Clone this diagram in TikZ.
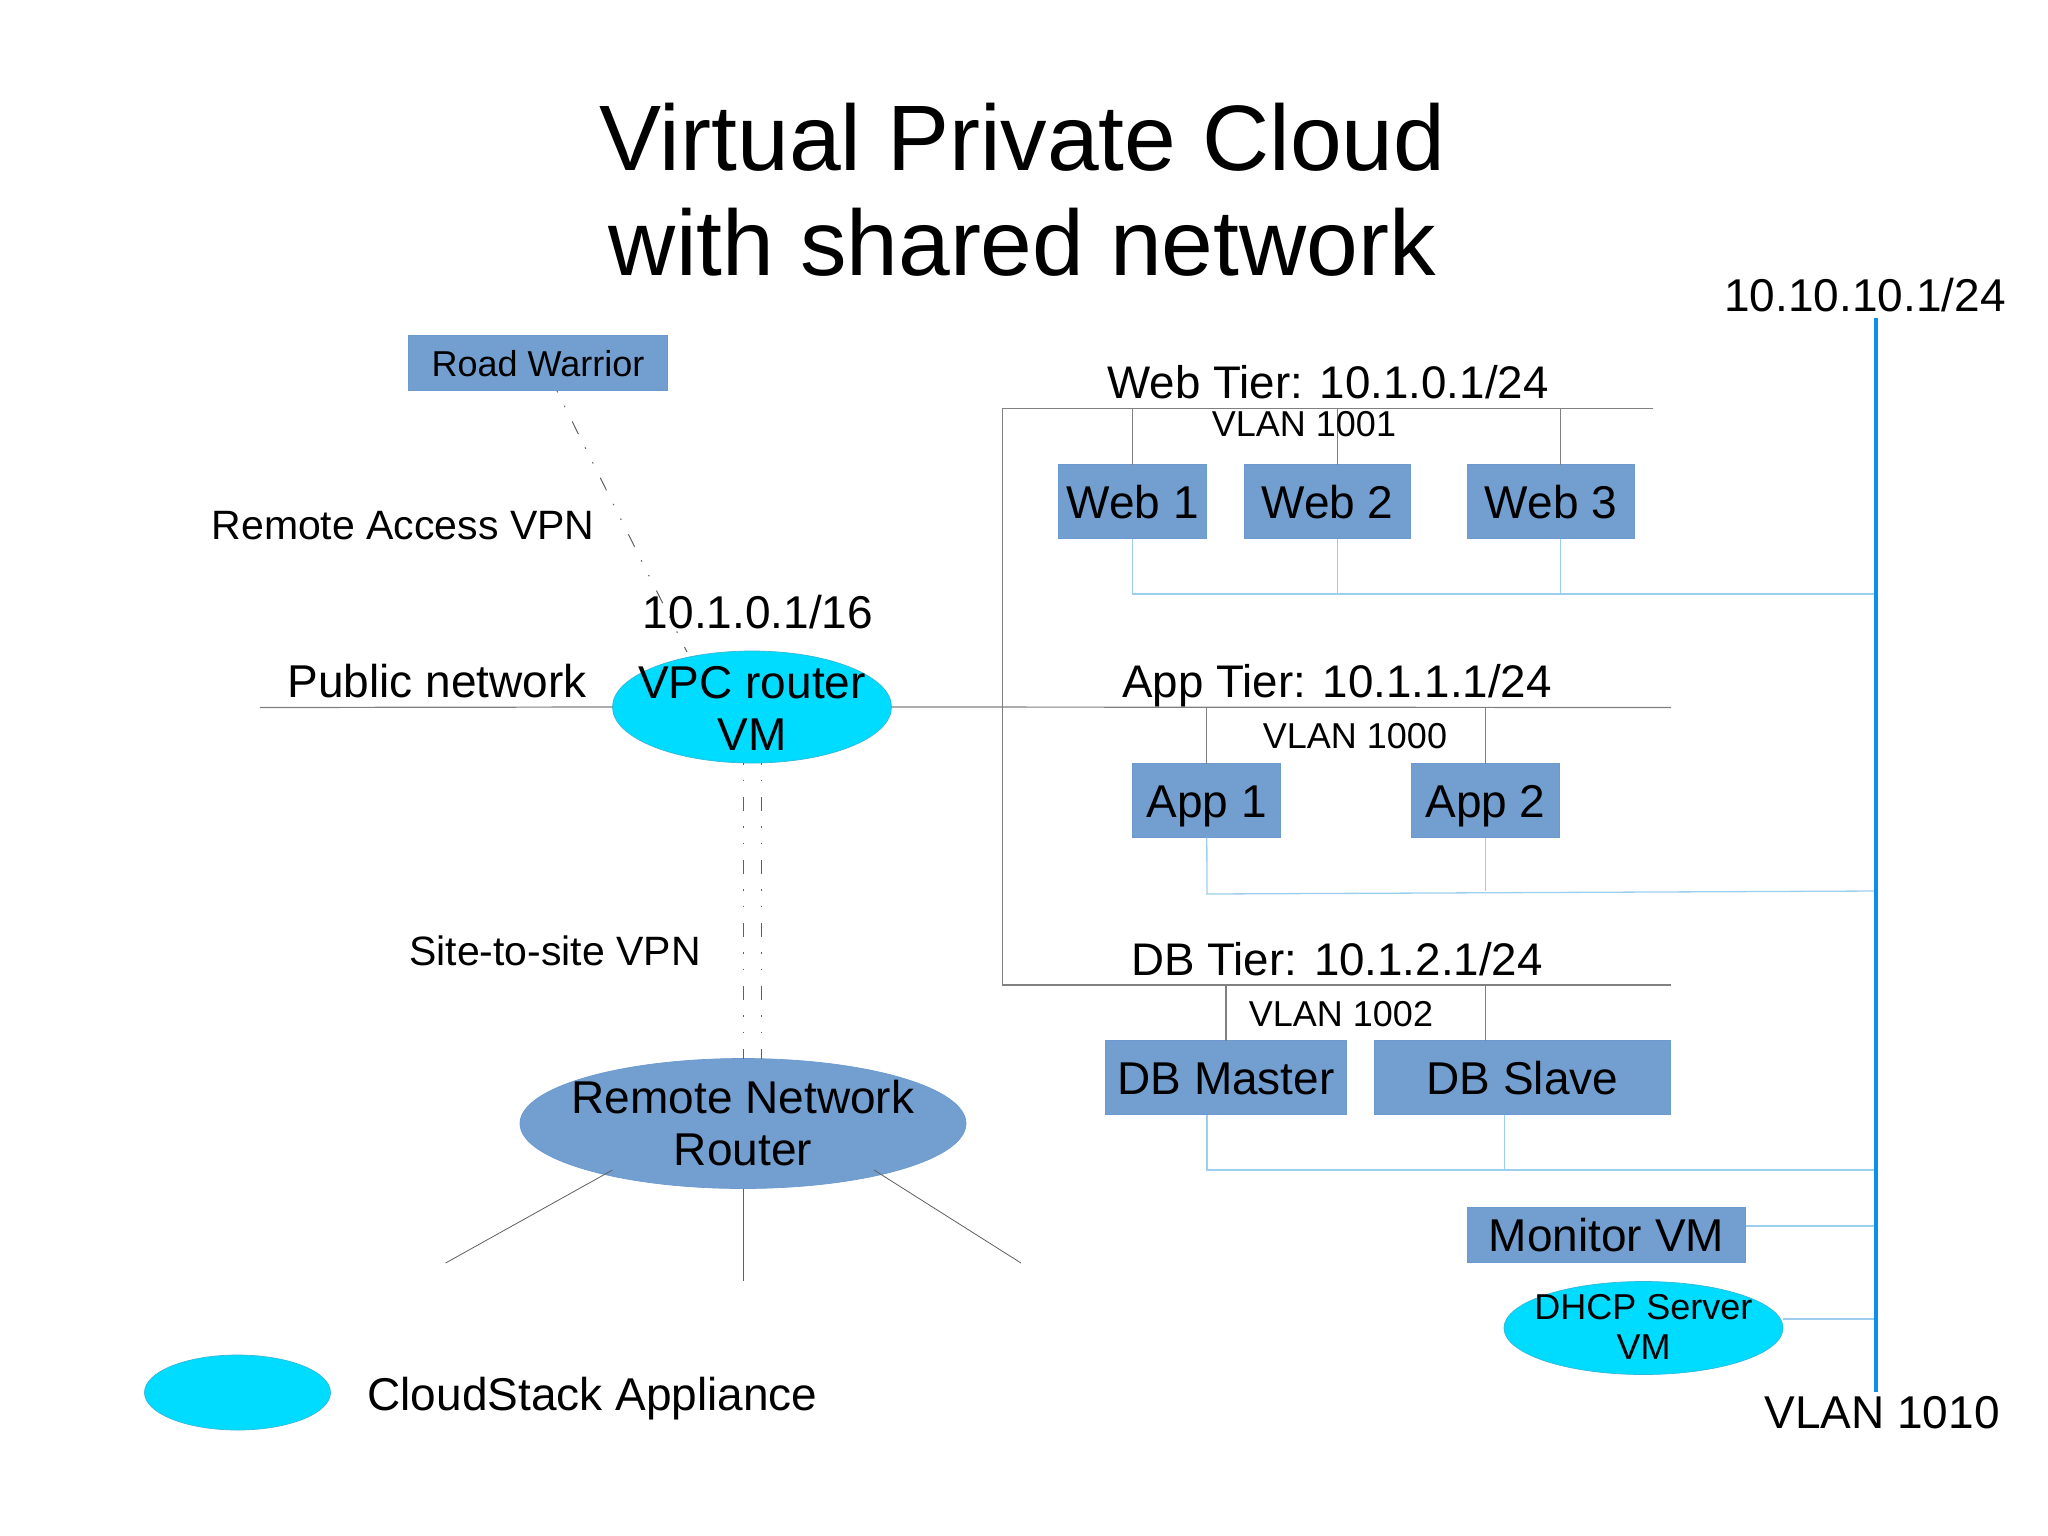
\documentclass[tikz,border=0pt]{standalone}
\usepackage{fontspec}
\setmainfont{Liberation Sans}
\usetikzlibrary{shapes.geometric,calc}
\definecolor{boxblue}{HTML}{729FCF}
\definecolor{boxedge}{HTML}{6C9AD0}
\definecolor{applcyan}{HTML}{00DCFF}
\definecolor{cyanedge}{HTML}{30B8DC}
\definecolor{buscol}{HTML}{0D8FE8}
\definecolor{thinblue}{HTML}{9CCFEF}
\definecolor{wire}{HTML}{808080}
\definecolor{darkwire}{HTML}{606060}
\newcommand{\sizeA}{\fontsize{46}{52}\selectfont}
\newcommand{\sizeT}{\fontsize{45.7}{52}\selectfont}
\newcommand{\sizeB}{\fontsize{41}{48}\selectfont}
\newcommand{\sizeC}{\fontsize{36}{40}\selectfont}
\tikzset{
  lbl/.style={inner sep=0pt,outer sep=0pt,anchor=base,text=black},
  multi/.style={inner sep=0pt,outer sep=0pt,align=center,text=black},
  boxnode/.style={rectangle,draw=boxedge,line width=1pt,fill=boxblue,inner sep=0pt,outer sep=0pt,
    text=black,text height=33pt,text depth=0pt,align=center},
  smallbox/.style={boxnode,text height=26pt},
  oval/.style={ellipse,line width=.7pt,inner sep=0pt,outer sep=0pt},
  cyanoval/.style={oval,draw=cyanedge,fill=applcyan},
  blueoval/.style={oval,draw=boxedge,fill=boxblue},
  grayline/.style={draw=wire,line width=1.2pt},
  tapline/.style={draw=thinblue,line width=1.3pt},
  busline/.style={draw=buscol,line width=3.6pt},
  vpnline/.style={draw=darkwire,line width=1pt,dash pattern=on 14pt off 15pt on 1.5pt off 15pt on 1.5pt off 16pt,dash phase=29pt},
  thinwire/.style={draw=darkwire,line width=.8pt}
}
\begin{document}
\begin{tikzpicture}[x=1pt,y=-1pt]
\useasboundingbox (0,0) rectangle (2048,1535);
\fill[white] (0,0) rectangle (2048,1535);

% title
\node[multi,font=\fontsize{93}{105}\selectfont] (title) at (1022.5,190) {Virtual Private Cloud\\with shared network};

% shapes
\node[smallbox,font=\sizeC,minimum width=259pt,minimum height=55pt] (rw) at (538,363) {Road Warrior};
\node[cyanoval,minimum width=279pt,minimum height=112pt] (vpc) at (752,707) {};
\node[blueoval,minimum width=446pt,minimum height=130pt] (remote) at (743,1123.5) {};
\node[cyanoval,minimum width=279pt,minimum height=93pt] (dhcp) at (1643.5,1328) {};
\node[cyanoval,minimum width=186pt,minimum height=75pt] (legend) at (237.5,1392.5) {};

\node[boxnode,font=\sizeA,minimum width=148pt,minimum height=74pt] (web1) at (1132.7,501.5) {Web 1};
\node[boxnode,font=\sizeA,minimum width=166pt,minimum height=74pt] (web2) at (1327.5,501.5) {Web 2};
\node[boxnode,font=\sizeA,minimum width=167pt,minimum height=74pt] (web3) at (1551,501.5) {Web 3};
\node[boxnode,font=\sizeA,minimum width=148pt,minimum height=74pt] (app1) at (1206.8,800.5) {App 1};
\node[boxnode,font=\sizeA,minimum width=148pt,minimum height=74pt] (app2) at (1485.5,800.5) {App 2};
\node[boxnode,font=\sizeA,minimum width=241pt,minimum height=74pt] (dbm) at (1226,1077.5) {DB Master};
\node[boxnode,font=\sizeA,minimum width=296pt,minimum height=74pt] (dbs) at (1522.5,1077.5) {DB Slave};
\node[boxnode,font=\sizeA,minimum width=278pt,minimum height=55pt] (mon) at (1606.5,1235) {Monitor VM};

% free ends
\coordinate (bustop) at (1876,318);
\coordinate (busbot) at (1876,1392);
\coordinate (pubw) at (260,707.5);
\coordinate (webl) at (1002.5,408.7);
\coordinate (webr) at (1653,408.7);
\coordinate (appr) at (1671,707.5);
\coordinate (dbl) at (1002.5,985);
\coordinate (dbr) at (1671,985);
\coordinate (webtap) at (1876,594);
\coordinate (apptapa) at (1207,894);
\coordinate (apptapb) at (1876,891);
\coordinate (dbtap) at (1876,1170);
\coordinate (rwv) at (557,391);
\coordinate (vpcv) at (687,652);
\coordinate (rl) at (612.5,1170);
\coordinate (rle) at (445.6,1263);
\coordinate (rr) at (874,1170);
\coordinate (rre) at (1021,1263);
\coordinate (rc) at (743,1281);
\coordinate (vpa) at (743,763);
\coordinate (vpb) at (761,763);

% black-grey network lines
\draw[grayline] (pubw) -- (vpc.west);
\draw[grayline] (vpc.east) -- (appr);
\draw[grayline] (webr) -- (webl) -- (dbl) -- (dbr);
\draw[grayline] (web1.north) -- (web1.north |- webl);
\draw[grayline] ([xshift=10pt]web2.north) -- ([xshift=10pt]web2.north |- webl);
\draw[grayline] ([xshift=9.4pt]web3.north) -- ([xshift=9.4pt]web3.north |- webl);
\draw[grayline] (app1.north) -- (app1.north |- appr);
\draw[grayline] (app2.north) -- (app2.north |- appr);
\draw[grayline] (dbm.north) -- (dbm.north |- dbl);
\draw[grayline] ([xshift=-37pt]dbs.north) -- ([xshift=-37pt]dbs.north |- dbl);

% VLAN 1010 taps
\draw[tapline] (web1.south) -- (web1.south |- webtap) -- (webtap);
\draw[tapline] ([xshift=10pt]web2.south) -- ([xshift=10pt]web2.south |- webtap);
\draw[tapline] ([xshift=9.4pt]web3.south) -- ([xshift=9.4pt]web3.south |- webtap);
\draw[tapline] (app1.south) -- (apptapa) -- (apptapb);
\draw[tapline] (app2.south) -- (app2.south |- apptapb);
\draw[tapline] ([xshift=-19pt]dbm.south) -- ([xshift=-19pt]dbm.south |- dbtap) -- (dbtap);
\draw[tapline] ([xshift=-18pt]dbs.south) -- ([xshift=-18pt]dbs.south |- dbtap);
\draw[tapline] ([yshift=9pt]mon.east) -- ([yshift=9pt]mon.east -| bustop);
\draw[tapline] ([yshift=9pt]dhcp.east) -- ([yshift=9pt]dhcp.east -| bustop);
\draw[busline] (bustop) -- (busbot);

% VPN links
\draw[vpnline] (rwv) -- (vpcv);
\draw[vpnline] (vpa) -- (vpa |- remote.north);
\draw[vpnline] (vpb) -- (vpb |- remote.north);

% remote branches
\draw[thinwire] (rl) -- (rle);
\draw[thinwire] (rr) -- (rre);
\draw[thinwire] (remote.south) -- (rc);

% text
\node[multi,font=\sizeA] (vpctext) at ([yshift=-1pt]vpc.center) {VPC router\\VM};
\node[multi,font=\sizeA] (remotetext) at ([yshift=0pt]remote.center) {Remote Network\\Router};
\node[multi,font=\sizeC] (dhcptext) at ([yshift=1pt]dhcp.center) {DHCP Server\\VM};

\node[lbl,font=\sizeB] (ravpn) at (403,539) {Remote Access VPN};
\node[lbl,font=\sizeA] (vpcip) at (758,628) {10.1.0.1/16};
\node[lbl,font=\sizeA] (pubnet) at (437,697.5) {Public network};
\node[lbl,font=\sizeA] (busip) at (1865,311) {10.10.10.1/24};
\node[lbl,font=\sizeT] (webtier) at (1328,398) {Web Tier: 10.1.0.1/24};
\node[lbl,font=\sizeC] (vlan1001) at (1304,436) {VLAN 1001};
\node[lbl,font=\sizeT] (apptier) at (1337,697.5) {App Tier: 10.1.1.1/24};
\node[lbl,font=\sizeC] (vlan1000) at (1355,748) {VLAN 1000};
\node[lbl,font=\sizeT] (dbtier) at (1337,975) {DB Tier: 10.1.2.1/24};
\node[lbl,font=\sizeC] (vlan1002) at (1341,1026) {VLAN 1002};
\node[lbl,font=\sizeA] (vlan1010) at (1882,1428) {VLAN 1010};
\node[lbl,font=\sizeB] (s2s) at (555,965.5) {Site-to-site VPN};
\node[lbl,font=\sizeA] (legendtext) at (592.5,1410) {CloudStack Appliance};
\end{tikzpicture}
\end{document}
